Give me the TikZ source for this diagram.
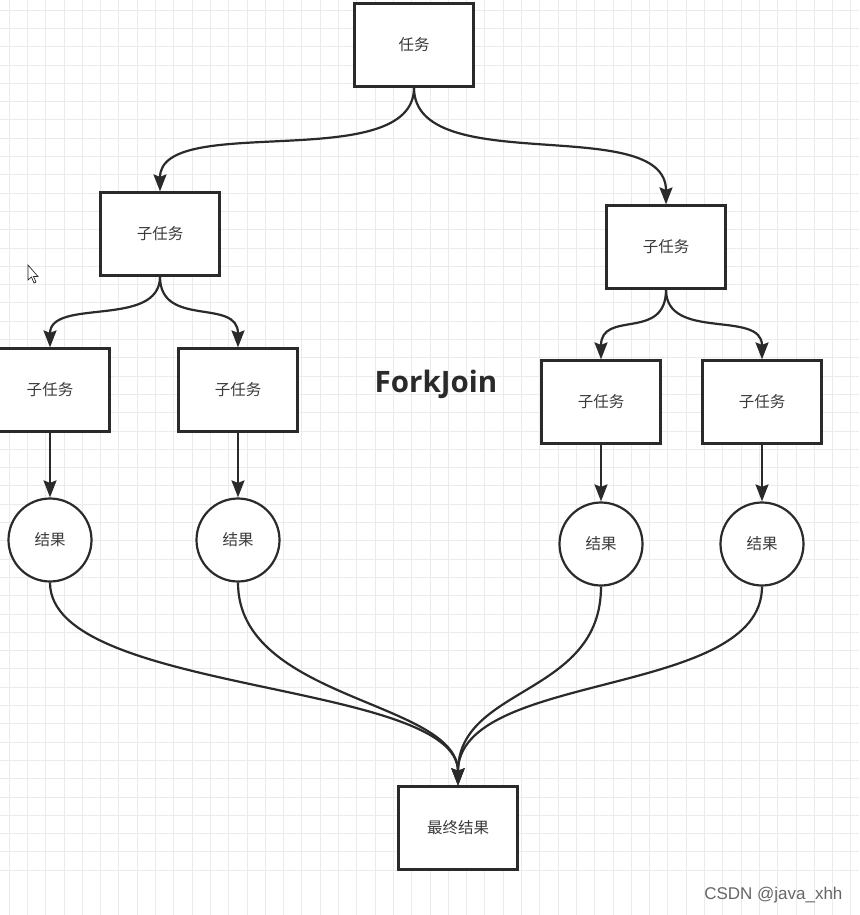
\documentclass[tikz,border=0pt]{standalone}
\usepackage{fontspec}
\setmainfont{Liberation Sans}
\newfontfamily\cjk{Noto Sans CJK SC}
\newfontfamily\bigsans{Open Sans}
\usetikzlibrary{arrows.meta}
\definecolor{gridc}{HTML}{EBEBEB}
\definecolor{linec}{HTML}{2A2A2A}
\definecolor{txtc}{HTML}{3A3A3A}
\tikzset{
  box/.style={draw=linec, line width=2.2pt, fill=white, minimum width=119pt, minimum height=83pt, inner sep=0pt, font=\cjk\fontsize{15.5}{17}\selectfont, text=txtc},
  res/.style={draw=linec, line width=2.2pt, fill=white, circle, minimum size=83pt, inner sep=0pt, font=\cjk\fontsize{15.5}{17}\selectfont, text=txtc},
  conn/.style={draw=linec, line width=2.2pt, -{Stealth[length=17pt,width=13pt,inset=2.5pt]}},
}
\begin{document}
\begin{tikzpicture}[x=1pt,y=-1pt]
\useasboundingbox (0,0) rectangle (859,915);
\fill[white] (0,0) rectangle (859,915);
% grid
\foreach \i in {0,...,47} {
  \draw[gridc, line width=0.7pt] ({9+18.3*\i},0) -- ({9+18.3*\i},915);
  \draw[gridc, line width=0.7pt] (0,{10+18.3*\i}) -- (859,{10+18.3*\i});
}
% nodes
\node[box] (t) at (414,45) {任务};
\node[box] (l) at (160,234) {子任务};
\node[box] (r) at (666,247) {子任务};
\node[box] (ll) at (50,390) {子任务};
\node[box] (lr) at (238,390) {子任务};
\node[box] (rl) at (601,402) {子任务};
\node[box] (rr) at (762,402) {子任务};
\node[res] (cll) at (50,540) {结果};
\node[res] (clr) at (238,540) {结果};
\node[res] (crl) at (601,544) {结果};
\node[res] (crr) at (762,544) {结果};
\node[box] (f) at (458,828) {最终结果};
\node[font=\bigsans\bfseries\fontsize{29.5}{33}\selectfont, text=linec] (fj) at (436,384) {ForkJoin};
\node[font=\fontsize{17}{19}\selectfont, text=gray!80!black, anchor=east] (wm) at (846,895) {CSDN @java\_xhh};
% cursor
\draw[linec, fill=white, line width=0.7pt] (28,265) -- (28,280) -- (31.5,277) -- (34,283) -- (36,282) -- (33.5,276.5) -- (38,276.5) -- cycle;
% connectors
\draw[conn] (t.south) .. controls +(0,88) and +(0,-80) .. (l.north);
\draw[conn] (t.south) .. controls +(0,92) and +(0,-92) .. (r.north);
\draw[conn] (l.south) .. controls +(0,52) and +(0,-50) .. (ll.north);
\draw[conn] (l.south) .. controls +(0,52) and +(0,-50) .. (lr.north);
\draw[conn] (r.south) .. controls +(0,52) and +(0,-50) .. (rl.north);
\draw[conn] (r.south) .. controls +(0,52) and +(0,-50) .. (rr.north);
\draw[conn] (ll.south) -- (cll.north);
\draw[conn] (lr.south) -- (clr.north);
\draw[conn] (rl.south) -- (crl.north);
\draw[conn] (rr.south) -- (crr.north);
\draw[conn] (cll.south) .. controls +(0,112) and +(0,-105) .. (f.north);
\draw[conn] (clr.south) .. controls +(0,118) and +(0,-85) .. (f.north);
\draw[conn] (crl.south) .. controls +(0,110) and +(0,-100) .. (f.north);
\draw[conn] (crr.south) .. controls +(0,112) and +(0,-115) .. (f.north);
\end{tikzpicture}
\end{document}
